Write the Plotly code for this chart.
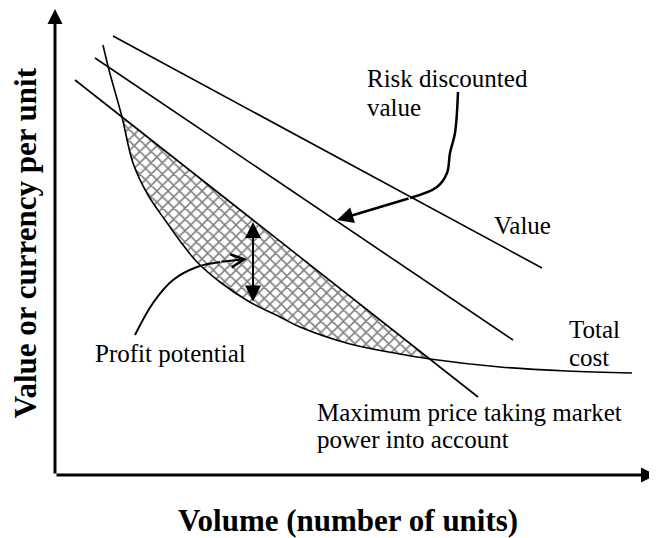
import plotly.graph_objects as go

# --- Dados (unidades arbitrárias, origem no canto dos eixos) ---
value_x = [58, 487]
value_y = [439, 207]

risk_x = [40, 458]
risk_y = [417, 135]

maxprice_x = [20, 423]
maxprice_y = [395, 78]

cost_x = [48, 54, 67, 78, 93, 110, 125, 142, 165, 193, 225, 245, 295, 345, 375, 445, 512, 577]
cost_y = [430, 405, 358, 312, 280, 255, 234, 213, 193, 174, 158, 148, 131, 121, 116, 108, 104, 102]

# região de lucro: entre o cruzamento esquerdo e o direito da curva de custo
profit_first, profit_last = 2, 14

# setas de chamada
risk_call_x = [403, 400, 395, 392, 382, 355]
risk_call_y = [383, 342, 322, 302, 288, 277]
risk_tip = (282, 255)

profit_call_x = [80, 98, 118, 142, 165]
profit_call_y = [140, 172, 195, 208, 213]
profit_tip = (192, 216)

gap_x = 198
gap_top, gap_bottom = 253, 172

serif = "Liberation Serif"

fig = go.Figure()

# área hachurada (potencial de lucro)
fig.add_trace(go.Scatter(
    x=cost_x[profit_first:profit_last + 1],
    y=cost_y[profit_first:profit_last + 1],
    mode='lines',
    line=dict(width=0, shape='spline', smoothing=1),
    fill='toself',
    fillcolor='white',
    fillpattern=dict(shape='x', size=8, solidity=0.35, fgcolor='black', bgcolor='white'),
    hoverinfo='skip'
))

# linhas de valor
for xs, ys in [(value_x, value_y), (risk_x, risk_y), (maxprice_x, maxprice_y)]:
    fig.add_trace(go.Scatter(x=xs, y=ys, mode='lines',
                             line=dict(color='black', width=1.6)))

# custo total
fig.add_trace(go.Scatter(x=cost_x, y=cost_y, mode='lines',
                         line=dict(color='black', width=1.6, shape='spline', smoothing=1)))

# chamadas curvas
fig.add_trace(go.Scatter(x=risk_call_x, y=risk_call_y, mode='lines',
                         line=dict(color='black', width=2.5, shape='spline')))
fig.add_trace(go.Scatter(x=profit_call_x, y=profit_call_y, mode='lines',
                         line=dict(color='black', width=2, shape='spline')))

arrows = [
    # eixos
    dict(x=0, y=466, ax=0, ay=0, arrowhead=2, arrowwidth=3, arrowsize=1),
    dict(x=601, y=0, ax=0, ay=0, arrowhead=2, arrowwidth=3, arrowsize=1),
    # pontas das chamadas
    dict(x=risk_tip[0], y=risk_tip[1], ax=risk_call_x[-1], ay=risk_call_y[-1],
         arrowhead=2, arrowwidth=2.5, arrowsize=1.3),
    dict(x=profit_tip[0], y=profit_tip[1], ax=profit_call_x[-1], ay=profit_call_y[-1],
         arrowhead=5, arrowwidth=2, arrowsize=1.3),
    # seta dupla
    dict(x=gap_x, y=gap_top, ax=gap_x, ay=gap_bottom, arrowhead=2, startarrowhead=2,
         arrowside='end+start', arrowwidth=2, arrowsize=1.6, startarrowsize=1.6),
]
for a in arrows:
    fig.add_annotation(xref='x', yref='y', axref='x', ayref='y', text='',
                       showarrow=True, arrowcolor='black', standoff=0, **a)

labels = [
    ("Risk discounted", 310, 397),
    ("value", 310, 368),
    ("Value", 437, 250),
    ("Total", 512, 146),
    ("cost", 512, 118),
    ("Profit potential", 38, 122),
    ("Maximum price taking market", 260, 63),
    ("power into account", 260, 36),
]
for txt, lx, ly in labels:
    fig.add_annotation(x=lx, y=ly, xref='x', yref='y', text=txt, showarrow=False,
                       xanchor='left', yanchor='middle',
                       font=dict(family=serif, size=25, color='black'))

# títulos dos eixos
fig.add_annotation(x=0.489, y=-0.097, xref='paper', yref='paper',
                   text="<b>Volume (number of units)</b>",
                   showarrow=False, xanchor='center', yanchor='middle',
                   font=dict(family=serif, size=31, color='black'))
fig.add_annotation(x=-0.048, y=0.499, xref='paper', yref='paper',
                   text="<b>Value or currency per unit</b>",
                   showarrow=False, textangle=-90, xanchor='center', yanchor='middle',
                   font=dict(family=serif, size=31, color='black'))

# a página tem margem de 8px; a figura é reduzida para caber na janela
fig.update_layout(
    width=649, height=530,
    margin=dict(l=47, r=2, t=2, b=63),
    showlegend=False,
    plot_bgcolor='white', paper_bgcolor='white',
    xaxis=dict(range=[0, 600], visible=False, fixedrange=True),
    yaxis=dict(range=[0, 465], visible=False, fixedrange=True),
)

fig.write_html("out.html")
